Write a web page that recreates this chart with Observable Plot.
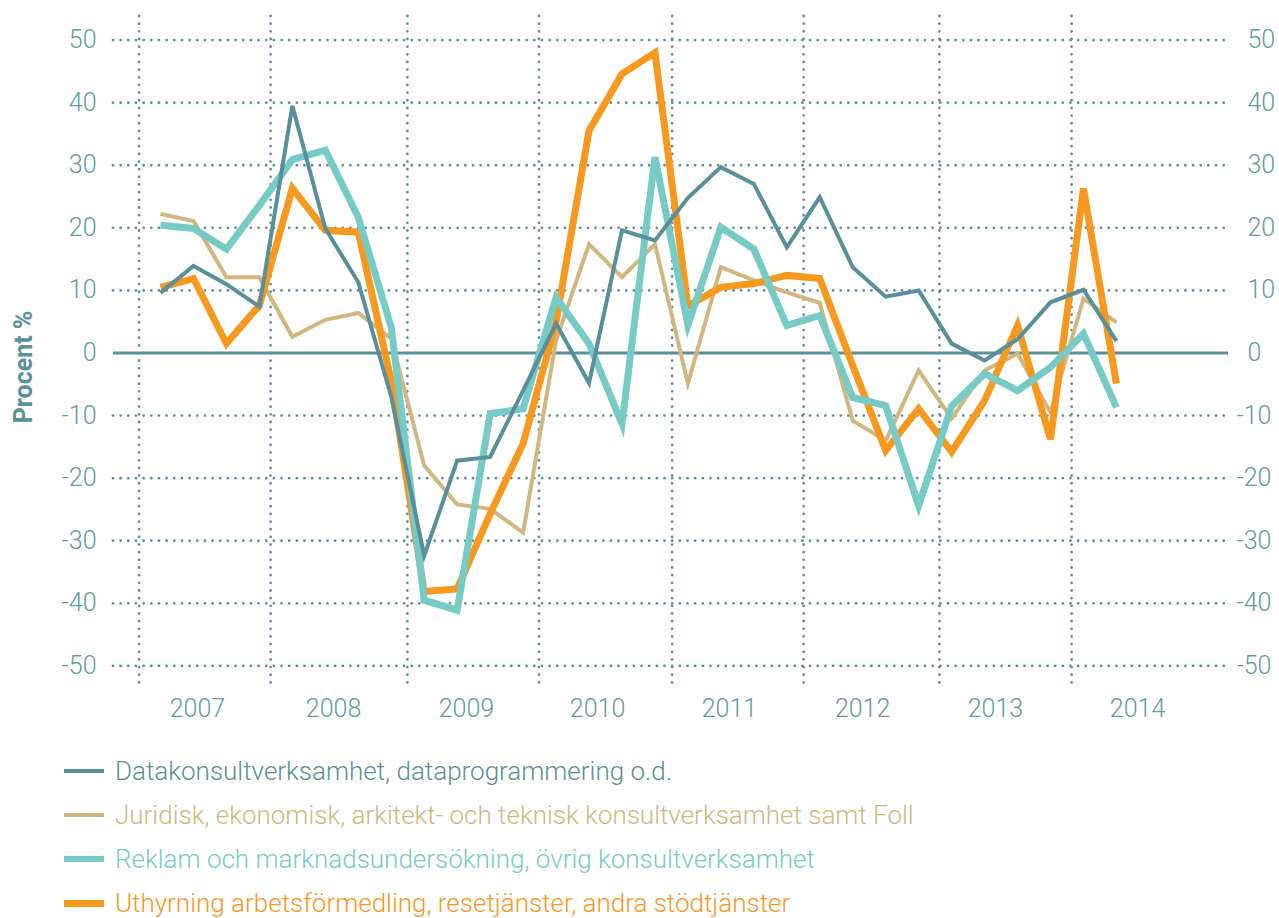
<!DOCTYPE html>
<html>
<head>
<meta charset="utf-8">
<script src="https://cdn.jsdelivr.net/npm/d3@7"></script>
<script src="https://cdn.jsdelivr.net/npm/@observablehq/plot@0.6"></script>
<style>
  html, body { margin: 0; padding: 0; background: #ffffff; }
  #wrap { position: relative; width: 1279px; height: 918px; overflow: hidden; font-family: Roboto, "Liberation Sans", sans-serif; }
  #legend { position: absolute; left: 0; top: 730px; width: 1279px; padding-top: 19px; }
  .item { position: relative; height: 44px; }
  .sw { position: absolute; left: 64px; width: 40px; top: 50%; }
  .lbl { position: absolute; left: 115px; top: 50%; font-size: 26px; font-weight: 300; white-space: nowrap; line-height: 1; transform: translateY(-50%); }
</style>
</head>
<body>
<div id="wrap"><div id="chart"></div><div id="legend"></div></div>
<script>
// ---- data (quarterly, % change) ----
const periods = ["2007K1","2007K2","2007K3","2007K4","2008K1","2008K2","2008K3","2008K4",
  "2009K1","2009K2","2009K3","2009K4","2010K1","2010K2","2010K3","2010K4",
  "2011K1","2011K2","2011K3","2011K4","2012K1","2012K2","2012K3","2012K4",
  "2013K1","2013K2","2013K3","2013K4","2014K1","2014K2"];

const datakonsult = [9.6, 13.9, 11.0, 7.4, 39.5, 19.9, 11.3, -7.0, -32.4, -17.2, -16.6, -6.0, 4.7, -4.8, 19.6, 18.0,
  24.8, 29.7, 27.0, 16.9, 24.9, 13.7, 9.0, 10.0, 1.5, -1.2, 2.2, 8.1, 10.1, 1.9];
const juridisk = [22.2, 21.1, 12.1, 12.1, 2.6, 5.3, 6.4, 2.3, -18.0, -24.2, -24.9, -28.7, 2.0, 17.4, 12.1, 17.4,
  -4.9, 13.7, 11.6, 9.7, 8.0, -10.8, -14.0, -2.8, -10.5, -2.8, -0.1, -9.5, 8.7, 4.9];
const reklam = [20.4, 19.9, 16.6, 23.6, 30.9, 32.4, 21.7, 4.1, -39.5, -41.1, -9.7, -8.9, 8.9, 1.5, -11.3, 31.3,
  4.5, 20.1, 16.6, 4.4, 6.0, -7.1, -8.4, -24.4, -8.5, -3.3, -6.0, -2.3, 3.1, -8.7];
const uthyrning = [10.5, 11.9, 1.5, 7.6, 26.3, 19.6, 19.3, -4.5, -38.1, -37.7, -25.7, -14.5, 5.0, 35.5, 44.6, 48.0,
  7.5, 10.5, 11.1, 12.4, 11.9, -2.0, -15.6, -8.9, -15.8, -7.6, 4.4, -13.8, 26.3, -4.9];

const seriesNames = [
  "Datakonsultverksamhet, dataprogrammering o.d.",
  "Juridisk, ekonomisk, arkitekt- och teknisk konsultverksamhet samt Foll",
  "Reklam och marknadsundersökning, övrig konsultverksamhet",
  "Uthyrning arbetsförmedling, resetjänster, andra stödtjänster"
];
const seriesValues = [datakonsult, juridisk, reklam, uthyrning];

// ---- axes / ticks ----
const yTicks = [-50, -40, -30, -20, -10, 0, 10, 20, 30, 40, 50];
const yearLabels = ["2007","2008","2009","2010","2011","2012","2013","2014"];
const yearLabelPos = [1.12, 5.25, 9.28, 13.26, 17.26, 21.3, 25.33, 29.64];   // in quarter-index units
const yearLines = [-0.65, 3.34, 7.49, 11.48, 15.52, 19.51, 23.63, 27.64];   // dotted separators

// ---- styles ----
const colors = ["#588f9b", "#d1b77f", "#76cbc6", "#f7981f"];
const widths = [4, 4, 7, 7];
const swatchW = [4, 4, 6, 7];
const drawOrder = [1, 3, 2, 0];
const gridColor = "#5b909c";
const tickColor = "#5f9aa6";
const fontFam = "Roboto, 'Liberation Sans', sans-serif";

const rows = [];
seriesValues.forEach((vals, s) => vals.forEach((v, i) => rows.push({s, i, period: periods[i], v})));

const lineMarks = drawOrder.map(s => Plot.line(rows.filter(r => r.s === s), {
  x: "i", y: "v", stroke: colors[s], strokeWidth: widths[s],
  strokeLinejoin: "miter", strokeMiterlimit: 4, strokeLinecap: "butt"
}));

const dotted = {stroke: gridColor, strokeWidth: 2.8, strokeDasharray: "0 7.66", strokeLinecap: "round"};

const chart = Plot.plot({
  width: 1279, height: 730,
  marginLeft: 113, marginRight: 51, marginTop: 16, marginBottom: 41,
  x: {type: "linear", domain: [-1.426, 32.40], axis: null},
  y: {type: "linear", domain: [-53.77, 53.77], axis: null},
  style: {fontFamily: fontFam, background: "#ffffff", overflow: "visible"},
  marks: [
    Plot.ruleY(yTicks.filter(d => d !== 0), dotted),
    Plot.ruleX(yearLines, dotted),
    Plot.ruleY([0], {stroke: gridColor, strokeWidth: 3}),
    ...lineMarks,
    Plot.text(yTicks, {y: d => d, text: d => String(d), frameAnchor: "left", textAnchor: "end", lineAnchor: "middle", dx: -17,
      fill: tickColor, fontSize: 25, fontWeight: 300}),
    Plot.text(yTicks.filter(d => d >= 0), {y: d => d, text: d => String(d), frameAnchor: "right", textAnchor: "start", lineAnchor: "middle", dx: 19,
      fill: tickColor, fontSize: 25, fontWeight: 300}),
    Plot.text(yTicks.filter(d => d < 0), {y: d => d, text: d => String(d), frameAnchor: "right", textAnchor: "start", lineAnchor: "middle", dx: 8,
      fill: tickColor, fontSize: 25, fontWeight: 300}),
    Plot.text(yearLabels, {x: (d, i) => yearLabelPos[i], text: d => d, frameAnchor: "bottom", textAnchor: "middle", lineAnchor: "middle", dy: 19,
      fill: tickColor, fontSize: 25, fontWeight: 300}),
    Plot.text(["Procent %"], {text: d => d, frameAnchor: "left", textAnchor: "middle", lineAnchor: "middle", dx: -90, dy: 14, rotate: -90,
      fill: "#5a8f9c", fontSize: 25, fontWeight: "bold"})
  ]
});
document.getElementById("chart").appendChild(chart);

// ---- legend ----
const legend = document.getElementById("legend");
seriesNames.forEach((name, s) => {
  const item = document.createElement("div");
  item.className = "item";
  const sw = document.createElement("div");
  sw.className = "sw";
  sw.style.height = swatchW[s] + "px";
  sw.style.marginTop = (-swatchW[s] / 2) + "px";
  sw.style.background = colors[s];
  const lbl = document.createElement("div");
  lbl.className = "lbl";
  lbl.textContent = name;
  lbl.style.color = colors[s];
  item.appendChild(sw);
  item.appendChild(lbl);
  legend.appendChild(item);
});
</script>
</body>
</html>
